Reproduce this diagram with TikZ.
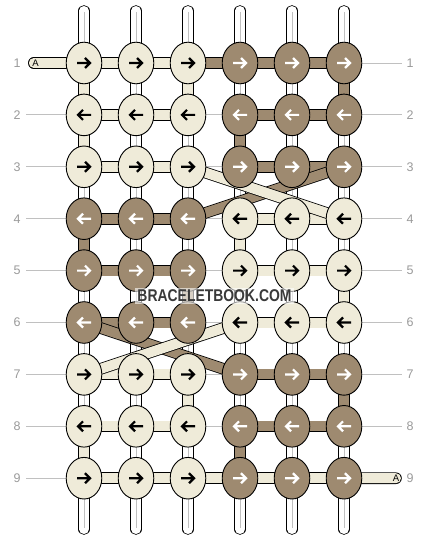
\documentclass[tikz,border=0pt]{standalone}
\usepackage{fontspec}
\setmainfont{Liberation Sans}
\usetikzlibrary{shapes.geometric,calc}
\definecolor{cr}{HTML}{EFEBD9}
\definecolor{br}{HTML}{9E8A70}
\definecolor{lg}{HTML}{C0C0C0}
\definecolor{ng}{HTML}{9A9A9A}
\definecolor{wm}{HTML}{3A3A3A}
\tikzset{
  knot/.style={ellipse, draw=black, line width=0.9pt, minimum width=35.6pt, minimum height=41.6pt, inner sep=0pt},
  band/.style={double=#1, double distance=10pt, line width=0.8pt, line cap=butt},
  tailband/.style={double=#1, double distance=10pt, line width=0.8pt, line cap=round},
  strand/.style={double=white, double distance=9.6pt, line width=0.8pt, line cap=round},
  midline/.style={draw=lg, line width=0.8pt},
  rowline/.style={draw=lg, line width=0.8pt},
  numlab/.style={text=ng, font=\fontsize{12.5}{13}\selectfont, inner sep=0pt},
  tag/.style={font=\fontsize{9.5}{10}\selectfont, inner sep=0pt},
  rarr/.pic={\draw[line width=2.2pt, line cap=butt, line join=miter] (-7,0) -- (5.5,0) (1,-5) -- (6,0) -- (1,5);},
  larr/.pic={\draw[line width=2.2pt, line cap=butt, line join=miter] (7,0) -- (-5.5,0) (-1,-5) -- (-6,0) -- (-1,5);},
}
\begin{document}
\begin{tikzpicture}[x=1pt,y=-1pt]
\useasboundingbox (0,0) rectangle (428,540);
% positions
\foreach \j in {1,...,9}{
  \foreach \i in {1,...,6}{
    \coordinate (p-\j-\i) at ({32+52*\i},{11.1+51.9*\j});
  }
  \coordinate (l-\j) at (26,{11.1+51.9*\j});
  \coordinate (r-\j) at (402,{11.1+51.9*\j});
}
\coordinate (a1) at (33.8,63);
\coordinate (a9) at (396,478.2);
% row guide lines
\foreach \j in {2,...,8}{\draw[rowline] (l-\j) -- (r-\j);}
\draw[rowline] (p-1-6) -- (r-1);
\draw[rowline] (l-9) -- (p-9-1);
% vertical base strands
\foreach \i in {1,...,6}{
  \coordinate (t-\i) at ({32+52*\i},10.8);
  \coordinate (b-\i) at ({32+52*\i},529.2);
  \draw[strand] (t-\i) -- (b-\i);
  \draw[midline] ($(t-\i)+(0.8,1)$) -- ($(b-\i)+(0.8,-1)$);
}
% horizontal segments
\foreach \j in {1,2,3,7,8}{
  \draw[band=cr] (p-\j-1) -- (p-\j-3);
  \draw[band=br] (p-\j-4) -- (p-\j-6);
}
\foreach \j in {4,5,6}{
  \draw[band=br] (p-\j-1) -- (p-\j-3);
  \draw[band=cr] (p-\j-4) -- (p-\j-6);
}
\draw[band=br] (p-1-3) -- (p-1-4);
\draw[band=cr] (p-9-1) -- (p-9-6);
\draw[tailband=cr] (a1) -- (p-1-1);
\draw[tailband=cr] (p-9-6) -- (a9);
% vertical segments between rows
\draw[band=cr] (p-1-1) -- (p-2-1);
\draw[band=cr] (p-1-3) -- (p-2-3);
\draw[band=br] (p-1-6) -- (p-2-6);
\draw[band=cr] (p-2-1) -- (p-3-1);
\draw[band=br] (p-2-4) -- (p-3-4);
\draw[band=br] (p-4-1) -- (p-5-1);
\draw[band=cr] (p-4-4) -- (p-5-4);
\draw[band=br] (p-5-3) -- (p-6-3);
\draw[band=cr] (p-5-6) -- (p-6-6);
\draw[band=cr] (p-7-3) -- (p-8-3);
\draw[band=br] (p-7-6) -- (p-8-6);
\draw[band=cr] (p-8-1) -- (p-9-1);
\draw[band=br] (p-8-4) -- (p-9-4);
% diagonal jumps
\draw[band=br] (p-3-6) -- (p-4-3);
\draw[band=br] (p-6-1) -- (p-7-4);
\draw[band=cr] (p-3-3) -- (p-4-6);
\draw[band=cr] (p-6-4) -- (p-7-1);
% knots
\foreach \j in {1,...,9}{
  \foreach \i in {1,...,6}{
    \ifnum\i<4 \def\kl{1}\else\def\kl{0}\fi
    \ifnum\j<4 \def\kt{1}\else\ifnum\j>6 \def\kt{1}\else\def\kt{0}\fi\fi
    \ifnum\kl=\kt \def\kc{cr}\def\ac{black}\else\def\kc{br}\def\ac{white}\fi
    \node[knot, fill=\kc] (k-\j-\i) at (p-\j-\i) {};
    \ifodd\j
      \pic[color=\ac] at (p-\j-\i) {rarr};
    \else
      \pic[color=\ac] at (p-\j-\i) {larr};
    \fi
  }
}
% labels
\foreach \j in {1,...,9}{
  \node[numlab] (nl-\j) at ($(l-\j)+(-9,0)$) {\j};
  \node[numlab] (nr-\j) at ($(r-\j)+(8,0)$) {\j};
}
\node[tag] (ta1) at (35.5,63) {A};
\node[tag] (ta9) at (396,478.2) {A};
% watermark
\node[fill=white, fill opacity=0.6, text opacity=1, text=wm, inner xsep=2pt, inner ysep=1.5pt,
      font=\bfseries\fontsize{17}{17}\selectfont] (wmk) at (214.5,296) {\scalebox{0.82}[1]{BRACELETBOOK.COM}};
\end{tikzpicture}
\end{document}
